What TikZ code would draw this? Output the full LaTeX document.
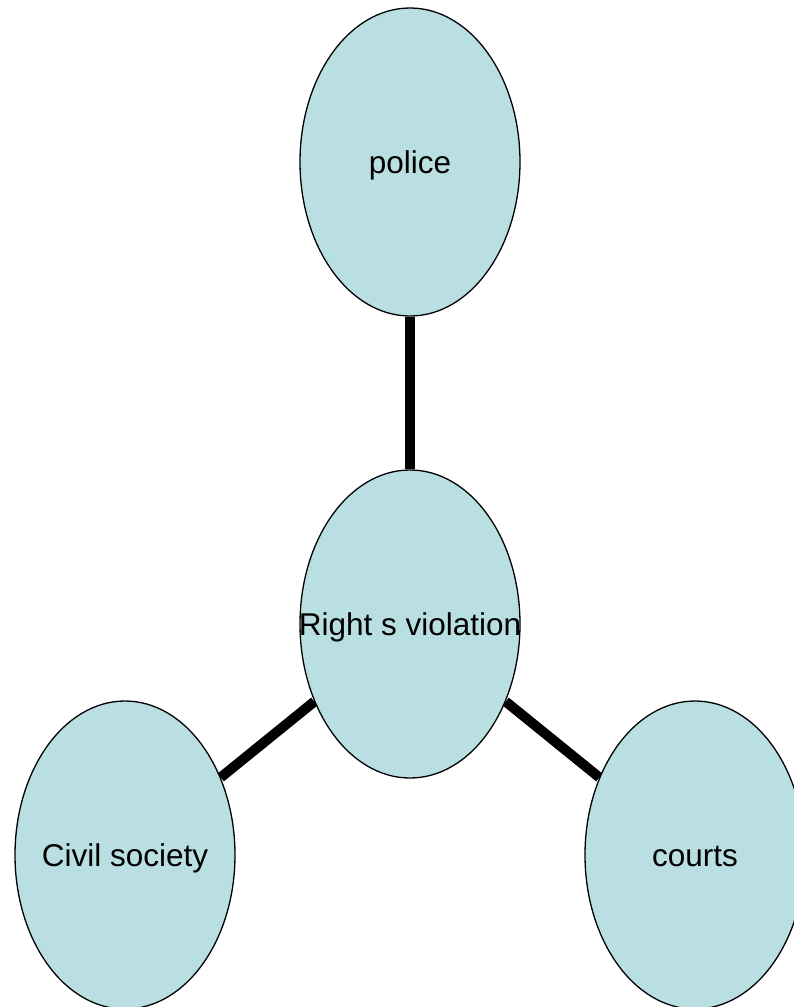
\documentclass[tikz,border=0pt]{standalone}
\usepackage{fontspec}
\setmainfont{Liberation Sans}
\usetikzlibrary{shapes.geometric}
\definecolor{bubblefill}{RGB}{185,223,227}

\begin{document}
\begin{tikzpicture}[x=1pt,y=1pt,
  bubble/.style={ellipse,draw=black,line width=1.3pt,fill=bubblefill,
    minimum width=220pt,minimum height=308pt,inner sep=0pt,
    label={[font=\fontsize{31.5}{38}\selectfont,inner sep=0pt,
      text height=22pt,text depth=6pt,yshift=-3pt]center:#1}},
  link/.style={line width=10pt,draw=black}]
  \useasboundingbox (0,0) rectangle (794,-1007);
  \clip (0,0) rectangle (794,-1007);
  \node (pol) at (410,-162) [bubble=police] {};
  \node (rv) at (410,-624) [bubble=Right s violation] {};
  \node (civ) at (125,-855) [bubble=Civil society] {};
  \node (crt) at (695,-855) [bubble=courts] {};
  \draw[link] (pol) -- (rv);
  \draw[link] (rv) -- (civ);
  \draw[link] (rv) -- (crt);
\end{tikzpicture}
\end{document}
